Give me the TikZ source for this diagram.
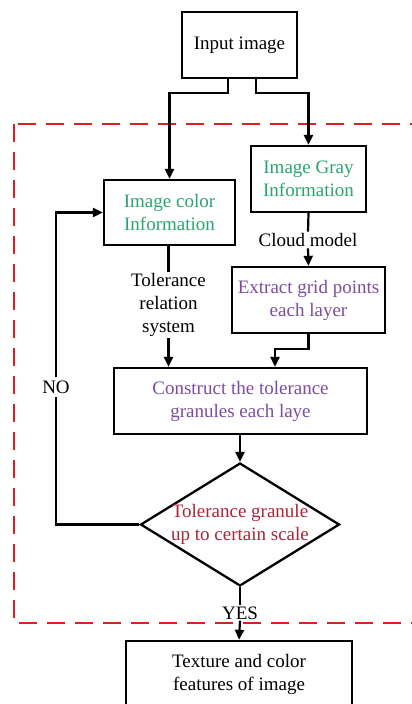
\documentclass[tikz,border=0pt]{standalone}
\usepackage{fontspec}
\setmainfont{Liberation Serif}
\usetikzlibrary{arrows.meta,shapes.geometric}
\definecolor{greentxt}{RGB}{40,165,110}
\definecolor{purpletxt}{RGB}{125,75,160}
\definecolor{redtxt}{RGB}{175,35,55}
\definecolor{dashred}{RGB}{220,30,35}
\tikzset{
  box/.style={draw, line width=2.3pt, inner sep=0pt, align=center,
    font=\fontsize{19}{23}\selectfont},
  lbl/.style={inner sep=1.5pt, align=center, font=\fontsize{19}{23}\selectfont},
  conn/.style={line width=2.2pt},
  arr/.style={conn, -{Triangle[width=9pt,length=10pt]}},
  dia/.style={draw, diamond, line width=2.3pt, inner sep=0pt,
    minimum width=199pt, minimum height=123pt},
  frame/.style={draw=dashred, line width=2.7pt, dash pattern=on 18pt off 10pt}
}
\begin{document}
\begin{tikzpicture}[x=1pt,y=-1pt]
\useasboundingbox (0,0) rectangle (412,704);
\clip (0,0) rectangle (412,704);
% dashed frame
\draw[frame] (14,124) rectangle (422,623);
% nodes
\node[box, minimum width=115pt, minimum height=66pt] (input) at (239.5,45) {Input image};
\node[box, text=greentxt, minimum width=131pt, minimum height=65pt] (color) at (169.5,212.5) {Image color\\Information};
\node[box, text=greentxt, minimum width=115pt, minimum height=66pt] (gray) at (308.5,179) {Image Gray\\Information};
\node[lbl] (cloud) at (308,240) {Cloud model};
\node[box, text=purpletxt, minimum width=153pt, minimum height=66pt] (extract) at (308.5,300) {Extract grid points\\each layer};
\node[lbl] (tol) at (168.5,305) {Tolerance\\relation\\system};
\node[box, text=purpletxt, minimum width=253pt, minimum height=66pt] (construct) at (240.5,401) {Construct the tolerance\\granules each laye};
\node[dia] (dec) at (240,524.5) {};
\node[lbl, text=redtxt] (dectext) at (dec.center) {Tolerance granule\\up to certain scale};
\node[lbl, inner sep=3pt] (no) at (56,387) {NO};
\node[lbl, inner sep=1pt] (yes) at (240,613) {YES};
\node[box, minimum width=226pt, minimum height=67pt] (texture) at (239,674.5) {Texture and color\\features of image};
% connectors
\draw[arr] ([xshift=-11.5pt]input.south) -- ++(0,14) -| (color.north);
\draw[arr] ([xshift=16.5pt]input.south) -- ++(0,14) -| (gray.north);
\draw[conn] (gray.south) -- (cloud.north);
\draw[arr] (cloud.south) -- (extract.north);
\draw[conn] (color.south -| tol.north) -- (tol.north);
\draw[arr] (tol.south) -- (tol.south |- construct.north);
\coordinate (exin) at ([xshift=34.5pt]construct.north);
\draw[arr] (extract.south) -- ++(0,15) -| (exin);
\draw[arr] (construct.south -| dec.north) -- (dec.north);
\draw[conn] (dec.west) -| (no.south);
\draw[arr] (no.north) |- (color.west);
\draw[conn] (dec.south) -- (yes.north);
\draw[arr] (yes.south) -- (texture.north);
\end{tikzpicture}
\end{document}
